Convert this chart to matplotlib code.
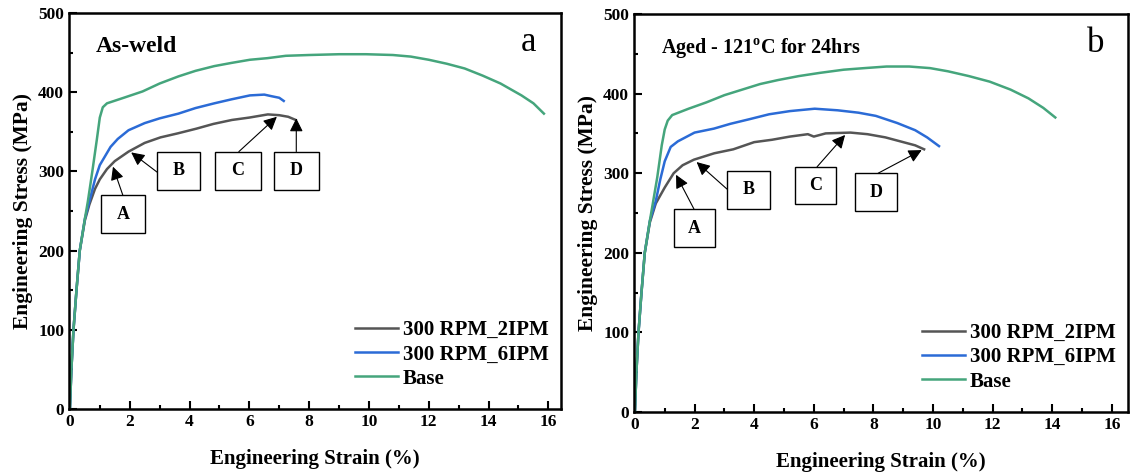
import matplotlib.pyplot as plt
from matplotlib.patches import Rectangle
from matplotlib.ticker import MultipleLocator

plt.rcParams['font.family'] = ['Liberation Serif', 'DejaVu Serif']
plt.rcParams['font.weight'] = 'bold'
plt.rcParams['mathtext.fontset'] = 'custom'
plt.rcParams['mathtext.rm'] = 'Liberation Serif:bold'

# ---- panel a : as-weld ----
a_2ipm_x = [0, 0.05, 0.12, 0.22, 0.33, 0.5, 0.65, 0.84, 1.0, 1.24, 1.5, 1.96, 2.5, 3.03, 3.6, 4.23,
            4.8, 5.42, 6.0, 6.62, 7.0, 7.3, 7.55]
a_2ipm_y = [0, 50, 100, 150, 200, 238, 258, 278, 290, 303, 313, 325, 336, 343, 348, 354,
            360, 365, 368, 372, 371, 369, 365]
a_6ipm_x = [0, 0.05, 0.12, 0.22, 0.33, 0.5, 0.65, 0.84, 1.0, 1.36, 1.6, 1.96, 2.5, 3.0, 3.63, 4.2,
            4.83, 5.4, 6.02, 6.5, 6.74, 7.0, 7.15]
a_6ipm_y = [0, 50, 100, 150, 200, 240, 262, 290, 308, 331, 341, 352, 361, 367, 373, 380,
            386, 391, 396, 397, 395, 393, 389]
a_base_x = [0, 0.05, 0.12, 0.22, 0.33, 0.5, 0.6, 0.75, 0.9, 1.0, 1.1, 1.24, 1.8, 2.43, 3.0, 3.63,
            4.2, 4.83, 5.4, 6.02, 6.6, 7.22, 8.0, 9.01, 9.9, 10.8, 11.4, 12.0, 12.6, 13.2,
            13.8, 14.4, 15.1, 15.5, 15.85]
a_base_y = [0, 50, 100, 150, 200, 240, 262, 300, 340, 368, 381, 386, 393, 401, 411, 420,
            427, 433, 437, 441, 443, 446, 447, 448, 448, 447, 445, 441, 436, 430,
            421, 411, 396, 386, 373]

# ---- panel b : aged ----
b_2ipm_x = [0, 0.05, 0.12, 0.22, 0.33, 0.5, 0.7, 1.0, 1.3, 1.6, 1.98, 2.66, 3.3, 4.0, 4.6, 5.2,
            5.8, 6.0, 6.4, 7.23, 7.8, 8.4, 9.0, 9.4, 9.7]
b_2ipm_y = [0, 50, 100, 150, 200, 238, 262, 282, 300, 310, 317, 325, 330, 339, 342, 346,
            349, 346, 350, 351, 349, 345, 339, 335, 330]
b_6ipm_x = [0, 0.05, 0.12, 0.22, 0.33, 0.5, 0.7, 0.85, 1.0, 1.2, 1.44, 2.0, 2.65, 3.2, 3.86, 4.5,
            5.2, 6.03, 6.8, 7.5, 8.08, 8.8, 9.4, 9.8, 10.2]
b_6ipm_y = [0, 50, 100, 150, 200, 240, 265, 292, 315, 333, 340, 351, 356, 362, 368, 374,
            378, 381, 379, 376, 372, 363, 354, 345, 334]
b_base_x = [0, 0.05, 0.12, 0.22, 0.33, 0.5, 0.6, 0.75, 0.9, 1.0, 1.1, 1.25, 1.8, 2.4, 3.0, 3.6,
            4.2, 4.8, 5.5, 6.2, 7.0, 7.7, 8.44, 9.2, 9.9, 10.5, 11.2, 11.9, 12.6, 13.2,
            13.7, 14.1]
b_base_y = [0, 50, 100, 150, 200, 240, 262, 295, 335, 355, 366, 373, 381, 389, 398, 405,
            412, 417, 422, 426, 430, 432, 434, 434, 432, 428, 422, 415, 405, 394,
            382, 370]

labels = ['300 RPM_2IPM', '300 RPM_6IPM', 'Base']
colors = ['#555555', '#2b6bd6', '#45a57c']

# annotation boxes: letter, box (x0, y0, x1, y1), arrow tail, arrow head
a_notes = [('A', (1.05, 222, 2.52, 270), (1.77, 270), (1.44, 306)),
           ('B', (2.92, 277, 4.35, 325), (2.92, 299), (2.05, 324)),
           ('C', (4.85, 277, 6.38, 325), (5.65, 325), (6.92, 369)),
           ('D', (6.82, 277, 8.32, 325), (7.57, 325), (7.57, 367))]
b_notes = [('A', (1.31, 207, 2.7, 255), (1.98, 255), (1.38, 298)),
           ('B', (3.09, 255, 4.52, 303), (3.09, 280), (2.07, 314)),
           ('C', (5.38, 261, 6.75, 308), (6.11, 308), (7.05, 348)),
           ('D', (7.39, 252, 8.78, 300), (8.16, 300), (9.62, 329))]

fig = plt.figure(figsize=(11.33, 4.74), dpi=100)
ax1 = fig.add_axes([0.0609, 0.1371, 0.4342, 0.8354])
ax2 = fig.add_axes([0.5596, 0.1308, 0.4360, 0.8397])

panels = [(ax1, [(a_2ipm_x, a_2ipm_y), (a_6ipm_x, a_6ipm_y), (a_base_x, a_base_y)],
           a_notes, 'As-weld', 17, 'a', 16.42),
          (ax2, [(b_2ipm_x, b_2ipm_y), (b_6ipm_x, b_6ipm_y), (b_base_x, b_base_y)],
           b_notes, r'Aged - 121$^{\rm o}$C for 24hrs', 14.5, 'b', 16.54)]

for ax, curves, notes, title, tsize, letter, xmax in panels:
    for (x, y), lab, c in zip(curves, labels, colors):
        ax.plot(x, y, color=c, lw=1.8, label=lab)
    for txt, box, tail, head in notes:
        x0, y0, x1, y1 = box
        ax.add_patch(Rectangle((x0, y0), x1 - x0, y1 - y0, fc='white', ec='black', lw=1.0, zorder=3))
        ax.text((x0 + x1) / 2, (y0 + y1) / 2, txt, ha='center', va='center', fontsize=13,
                fontweight='bold', zorder=4)
        ax.annotate('', xy=head, xytext=tail,
                    arrowprops=dict(arrowstyle='-|>', color='black', lw=0.8, mutation_scale=20,
                                    shrinkA=0, shrinkB=0))
    ax.set_xlim(-0.03, xmax)
    ax.set_ylim(0, 500)
    ax.xaxis.set_major_locator(MultipleLocator(2))
    ax.xaxis.set_minor_locator(MultipleLocator(1))
    ax.yaxis.set_major_locator(MultipleLocator(100))
    ax.yaxis.set_minor_locator(MultipleLocator(50))
    ax.tick_params(which='both', direction='in', width=1.5, labelsize=12.5)
    ax.tick_params(which='major', length=6)
    ax.tick_params(which='minor', length=3)
    for s in ax.spines.values():
        s.set_linewidth(1.8)
    ax.set_xlabel('Engineering Strain (%)', fontsize=15, fontweight='bold', labelpad=14)
    ax.set_ylabel('Engineering Stress (MPa)', fontsize=15.5, fontweight='bold', labelpad=4)
    ax.text(0.055, 0.915, title, transform=ax.transAxes, fontsize=tsize, fontweight='bold',
            va='center')
    ax.text(0.935, 0.925, letter, transform=ax.transAxes, fontsize=25, fontweight='normal',
            ha='center', va='center')
    leg = ax.legend(loc='lower right', frameon=False, fontsize=15, handlelength=2.1,
                    handletextpad=0.2, labelspacing=0.2, borderaxespad=0.2,
                    bbox_to_anchor=(1.0, 0.02))

plt.savefig('out.png', dpi=100)
